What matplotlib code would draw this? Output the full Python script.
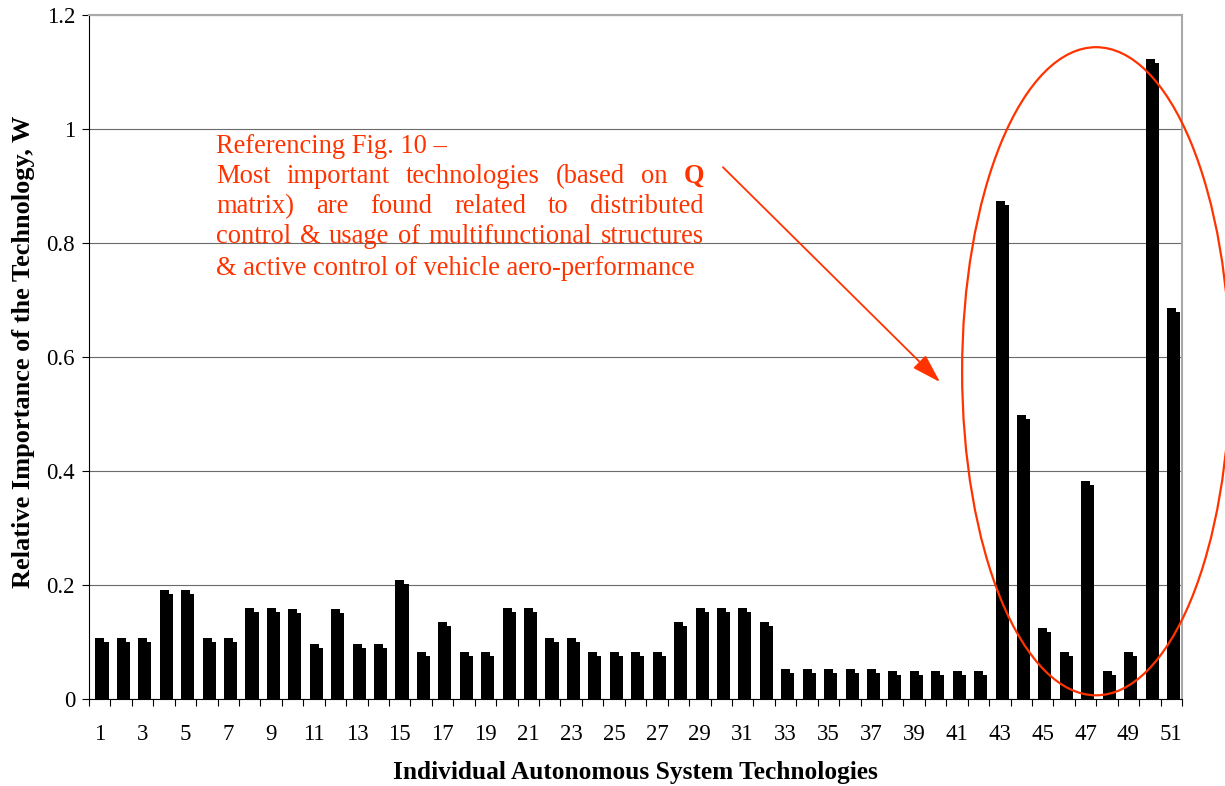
import matplotlib
matplotlib.use('Agg')
import matplotlib.pyplot as plt
import numpy as np
from matplotlib.patches import Ellipse

plt.rcParams['font.family'] = ['Liberation Serif', 'DejaVu Serif']

# relative importance W of each technology
tech_ids = np.arange(1, 52)
importance = [0.107, 0.107, 0.107, 0.191, 0.191, 0.107, 0.107, 0.160, 0.160, 0.158,
              0.096, 0.158, 0.096, 0.096, 0.209, 0.082, 0.135, 0.082, 0.082, 0.160,
              0.160, 0.107, 0.107, 0.082, 0.082, 0.082, 0.082, 0.135, 0.160, 0.160,
              0.160, 0.135, 0.053, 0.053, 0.053, 0.053, 0.053, 0.049, 0.049, 0.049,
              0.049, 0.049, 0.874, 0.498, 0.125, 0.082, 0.382, 0.049, 0.082, 1.122,
              0.686]
xtick_pos = list(range(1, 52, 2))
xtick_labels = [str(i) for i in xtick_pos]
ytick_pos = [0, 0.2, 0.4, 0.6, 0.8, 1.0, 1.2]
ytick_labels = ['0', '0.2', '0.4', '0.6', '0.8', '1', '1.2']

note_lines = [
    ('Referencing Fig. 10 \u2013', False),
    ('Most important technologies (based on Q', True),
    ('matrix) are found related to distributed', True),
    ('control & usage of multifunctional structures', True),
    ('& active control of vehicle aero-performance', False),
]

RED = '#ff3300'
W, H = 1225, 786

fig = plt.figure(figsize=(W / 100, H / 100), dpi=100)
ax = fig.add_axes([89 / W, 87 / H, 1093 / W, 684 / H])

# excel-like 3d bar: tall front face plus a slightly lower side face
step = 0.007
vals = np.array(importance)
ax.bar(tech_ids - 0.2, vals - step, width=0.61, align='edge', color='black', zorder=3)
ax.bar(tech_ids - 0.2, vals, width=0.42, align='edge', color='black', zorder=3)

ax.set_xlim(0.5, 51.5)
ax.set_ylim(0, 1.2)

ax.set_xticks(np.arange(0.5, 52, 1.0))
ax.set_xticklabels([])
ax.set_xticks(xtick_pos, minor=True)
ax.set_xticklabels(xtick_labels, minor=True, fontsize=16.5)
ax.tick_params(axis='x', which='major', length=5, width=0.8, direction='out')
ax.tick_params(axis='x', which='minor', length=0, pad=18)

ax.set_yticks(ytick_pos)
ax.set_yticklabels(ytick_labels, fontsize=16.5)
ax.tick_params(axis='y', length=5, width=0.8, direction='out', pad=5)

ax.yaxis.grid(True, color='#6b6b6b', lw=0.8)
ax.set_axisbelow(True)

for s in ['left', 'bottom']:
    ax.spines[s].set_color('black')
    ax.spines[s].set_linewidth(0.8)
for s in ['top', 'right']:
    ax.spines[s].set_color('#a8a8a8')
    ax.spines[s].set_linewidth(1.5)

ax.set_ylabel('Relative Importance of the Technology, W', fontsize=19, fontweight='bold')
ax.yaxis.set_label_coords(-0.060, 0.507)
ax.yaxis.label.set_va('center')
ax.set_xlabel('Individual Autonomous System Technologies', fontsize=18.3, fontweight='bold')
ax.xaxis.set_label_coords(0.4995, -0.108)
ax.xaxis.label.set_va('center')

# highlight ellipse and arrow
ell = Ellipse((47.49, 0.575), 12.5, 1.137, fill=False, edgecolor=RED, lw=1.6,
              clip_on=False, zorder=5)
ax.add_patch(ell)
ax.annotate('', xy=(40.21, 0.556), xytext=(30.08, 0.933),
            arrowprops=dict(arrowstyle='-|>,head_length=1.8,head_width=0.55',
                            color=RED, lw=1.3, shrinkA=0, shrinkB=0),
            annotation_clip=False, zorder=5)

# justified red note
renderer = fig.canvas.get_renderer()
x0, x1 = 216, 704
baselines = [153, 183, 213, 243, 275]
note_size = 19.1
for (line, justify), yb in zip(note_lines, baselines):
    yf = 1 - yb / H
    if not justify:
        fig.text(x0 / W, yf, line, color=RED, fontsize=note_size, va='baseline')
        continue
    words = line.split(' ')
    texts = []
    for wd in words:
        weight = 'bold' if wd == 'Q' else 'normal'
        texts.append(fig.text(0, yf, wd, color=RED, fontsize=note_size,
                              fontweight=weight, va='baseline'))
    widths = [t.get_window_extent(renderer).width for t in texts]
    gap = (x1 - x0 - sum(widths)) / (len(words) - 1)
    xp = x0
    for t, wdt in zip(texts, widths):
        t.set_x(xp / W)
        xp += wdt + gap

fig.savefig('out.png', dpi=100)
